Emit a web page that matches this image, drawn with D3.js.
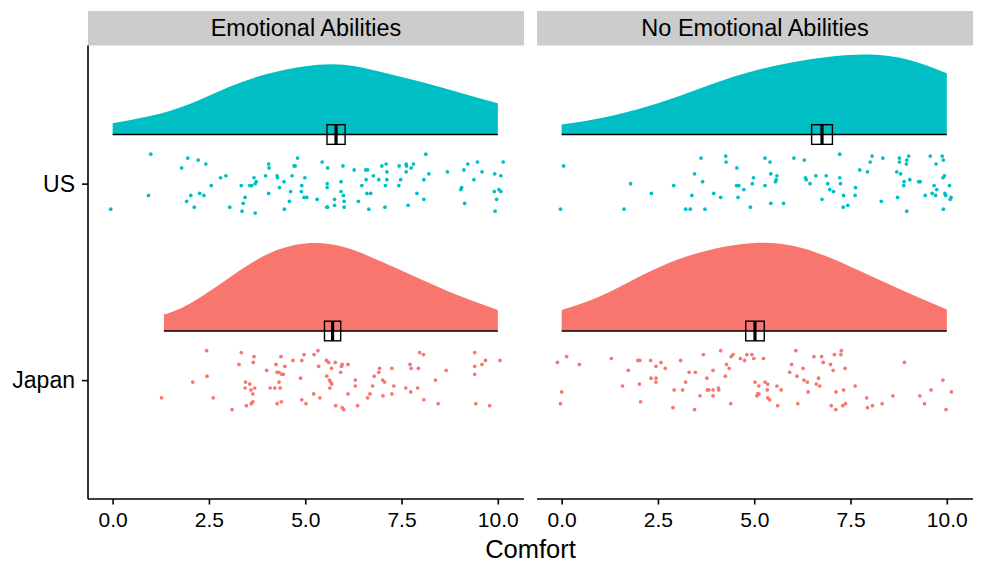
<!DOCTYPE html>
<html>
<head>
<meta charset="utf-8">
<script src="https://cdn.jsdelivr.net/npm/d3@7"></script>
<style>
  body { margin: 0; background: #fff; }
  svg text { font-family: "Liberation Sans", Arial, Helvetica, sans-serif; fill: #000; }
</style>
</head>
<body>
<svg width="984" height="564"></svg>
<script>
// facets, countries and ticks
const panels = ['Emotional Abilities', 'No Emotional Abilities'];
const countries = ['US', 'Japan'];
const countryColors = ['#00BFC4', '#F8766D'];
const xTicks = [0, 2.5, 5, 7.5, 10];

// half-violin densities (height in category units)
const gridFull = [0, 1, 2, 3, 4, 5, 6, 7, 8, 9, 10];
const gridJapanEmo = [1.33, 2, 3, 4, 5, 6, 7, 8, 9, 10];
const densUsEmo = [0.057, 0.095, 0.155, 0.240, 0.308, 0.348, 0.355, 0.317, 0.268, 0.214, 0.159];
const densUsNoEmo = [0.051, 0.083, 0.130, 0.192, 0.263, 0.324, 0.368, 0.397, 0.407, 0.381, 0.312];
const densJapanEmo = [0.084, 0.139, 0.267, 0.389, 0.445, 0.427, 0.351, 0.264, 0.179, 0.107];
const densJapanNoEmo = [0.107, 0.177, 0.275, 0.363, 0.420, 0.448, 0.434, 0.370, 0.282, 0.193, 0.110];

// mean +/- standard error (crossbars)
const meanComfort = [[5.80, 5.71], [6.76, 5.02]];
const seComfort = [[0.235, 0.21], [0.27, 0.24]];

// raw ratings: [comfort, vertical jitter]
const usEmo = [[-0.05,0.13],[0.99,-0.15],[0.93,0.06],[1.79,-0.08],[1.95,-0.13],[2.22,-0.12],[2.42,-0.10],[1.92,0.09],[2.03,0.06],[2.26,0.05],[2.37,0.06],[2.12,0.12],[2.56,0.01],[2.80,-0.03],[2.94,-0.04],[3.04,0.12],[3.34,0.01],[3.36,0.14],[3.39,0.10],[3.44,0.07],[3.56,0.01],[3.61,0.01],[3.67,-0.03],[3.70,0.00],[3.73,-0.01],[3.70,0.15],[3.97,-0.04],[4.05,-0.10],[4.06,-0.08],[4.05,0.05],[4.27,-0.04],[4.28,-0.03],[4.33,0.02],[4.45,-0.01],[4.46,0.13],[4.59,0.09],[4.62,0.04],[4.66,-0.04],[4.71,-0.09],[4.74,-0.09],[4.80,-0.13],[4.91,0.01],[4.90,0.04],[4.99,-0.03],[4.97,0.07],[5.04,0.07],[5.31,0.08],[5.44,-0.11],[5.58,-0.08],[5.57,0.00],[5.57,0.02],[5.56,0.12],[5.58,0.12],[5.76,0.08],[5.76,0.11],[5.93,-0.01],[5.93,0.04],[5.98,-0.09],[5.99,0.06],[6.01,0.09],[6.01,0.12],[6.27,-0.07],[6.38,0.09],[6.47,0.01],[6.57,-0.07],[6.62,-0.07],[6.58,-0.02],[6.60,0.05],[6.70,0.05],[6.65,0.13],[6.77,-0.04],[6.91,-0.02],[6.99,-0.09],[7.10,-0.10],[7.12,-0.06],[7.12,-0.02],[7.08,0.01],[7.07,0.12],[7.44,-0.09],[7.48,-0.02],[7.43,0.01],[7.62,-0.10],[7.63,-0.09],[7.62,-0.06],[7.75,-0.08],[7.81,-0.10],[7.67,0.11],[7.90,0.05],[8.08,0.08],[8.08,-0.02],[8.13,-0.15],[8.21,-0.05],[8.69,-0.06],[9.06,0.02],[9.04,0.03],[9.12,-0.07],[9.14,0.10],[9.22,-0.10],[9.38,-0.02],[9.47,-0.11],[9.59,-0.06],[9.92,-0.05],[10.08,-0.04],[9.91,0.04],[10.03,0.03],[10.08,0.04],[9.97,0.08],[9.93,0.14],[10.14,-0.11]];
const usNoEmo = [[-0.03,0.13],[0.05,-0.09],[1.62,0.13],[1.79,0.00],[2.33,0.05],[2.91,0.01],[3.22,0.13],[3.34,0.13],[3.38,0.06],[3.45,-0.05],[3.62,-0.13],[3.66,-0.01],[3.72,0.13],[3.95,0.05],[4.13,0.07],[4.26,-0.14],[4.27,-0.11],[4.55,-0.08],[4.54,0.01],[4.60,0.01],[4.58,0.07],[4.73,0.03],[4.90,0.12],[4.95,0.00],[4.98,-0.03],[5.28,-0.13],[5.28,0.01],[5.41,-0.11],[5.43,-0.05],[5.43,0.10],[5.55,-0.01],[5.59,-0.04],[5.57,-0.02],[5.76,0.10],[6.03,-0.13],[6.30,-0.12],[6.33,-0.03],[6.35,-0.02],[6.45,0.00],[6.60,-0.04],[6.76,0.08],[6.87,-0.04],[6.91,0.00],[6.96,0.03],[7.06,0.04],[7.22,-0.15],[7.22,-0.03],[7.24,0.00],[7.32,0.06],[7.31,0.12],[7.43,0.11],[7.62,0.06],[7.63,0.02],[7.74,-0.07],[7.94,-0.06],[8.01,-0.11],[8.06,-0.14],[8.30,0.09],[8.34,-0.13],[8.70,-0.06],[8.72,0.07],[8.77,-0.13],[8.77,-0.11],[8.80,-0.05],[8.88,0.01],[8.89,-0.01],[8.95,-0.10],[8.96,-0.12],[9.01,-0.14],[8.96,0.14],[9.04,-0.02],[9.27,-0.01],[9.31,-0.01],[9.44,0.06],[9.57,-0.14],[9.62,0.05],[9.67,0.01],[9.71,0.06],[9.72,-0.10],[9.74,0.03],[9.88,-0.14],[9.91,-0.12],[9.90,-0.03],[9.94,-0.04],[9.95,0.05],[9.97,0.06],[10.07,0.01],[10.09,0.08],[10.11,0.07],[9.91,0.13]];
const japanEmo = [[1.27,0.09],[2.08,0.01],[2.44,-0.15],[2.45,-0.02],[2.61,0.09],[3.10,0.15],[3.28,-0.08],[3.34,-0.14],[3.45,0.01],[3.44,0.04],[3.47,0.13],[3.56,0.02],[3.59,0.05],[3.60,0.12],[3.64,0.11],[3.64,0.07],[3.65,-0.09],[3.67,-0.12],[3.69,0.04],[4.00,-0.05],[4.09,0.04],[4.21,0.04],[4.24,-0.08],[4.27,-0.04],[4.27,0.12],[4.32,0.01],[4.35,0.04],[4.32,-0.04],[4.37,-0.12],[4.38,0.11],[4.39,-0.03],[4.43,-0.03],[4.47,-0.07],[4.68,-0.10],[4.88,-0.01],[4.91,-0.10],[4.91,0.10],[4.97,-0.13],[5.02,0.12],[5.22,0.07],[5.23,-0.13],[5.33,-0.15],[5.35,-0.07],[5.38,0.09],[5.55,-0.10],[5.56,-0.02],[5.61,-0.09],[5.63,0.00],[5.64,0.04],[5.66,0.01],[5.68,-0.06],[5.69,0.02],[5.78,-0.09],[5.79,0.13],[5.92,-0.04],[5.94,-0.07],[5.96,-0.08],[5.96,0.14],[6.00,0.15],[6.11,0.07],[6.11,-0.08],[6.30,0.00],[6.30,0.03],[6.36,0.13],[6.62,0.09],[6.68,0.07],[6.75,0.03],[6.79,-0.02],[6.91,-0.04],[6.93,-0.06],[7.01,0.00],[7.02,0.08],[7.06,0.01],[7.25,-0.06],[7.25,0.07],[7.30,0.03],[7.61,0.04],[7.72,-0.08],[7.74,0.06],[7.75,-0.06],[7.92,0.04],[7.94,-0.06],[7.97,-0.14],[8.07,-0.13],[8.08,0.10],[8.38,0.00],[8.45,0.12],[8.66,-0.05],[9.40,-0.14],[9.40,-0.07],[9.40,-0.03],[9.43,0.12],[9.59,-0.08],[9.68,-0.10],[9.79,0.13],[10.06,-0.10]];
const japanNoEmo = [[-0.11,-0.09],[0.13,-0.12],[0.00,0.06],[-0.03,0.12],[0.46,-0.08],[1.29,-0.11],[1.58,0.03],[1.73,-0.05],[1.98,-0.10],[2.03,-0.10],[2.02,0.02],[2.05,0.11],[2.31,-0.10],[2.32,-0.01],[2.45,-0.01],[2.45,0.01],[2.45,-0.07],[2.58,-0.09],[2.69,-0.06],[2.89,0.14],[2.92,0.05],[3.09,-0.10],[3.14,0.05],[3.22,0.01],[3.31,-0.04],[3.45,0.15],[3.47,-0.04],[3.59,0.08],[3.68,-0.13],[3.77,-0.01],[3.78,0.05],[3.82,0.05],[3.93,-0.05],[3.93,0.05],[3.93,0.08],[4.07,0.04],[4.08,0.05],[4.13,-0.15],[4.25,-0.02],[4.28,-0.08],[4.35,-0.06],[4.39,0.12],[4.40,-0.12],[4.45,-0.13],[4.64,-0.11],[4.75,-0.10],[4.81,-0.13],[4.94,-0.13],[4.99,-0.11],[5.02,0.01],[5.07,0.08],[5.09,0.07],[5.12,0.03],[5.12,0.07],[5.24,-0.11],[5.28,0.01],[5.34,0.05],[5.35,0.02],[5.35,0.09],[5.40,0.10],[5.59,0.03],[5.61,0.13],[5.70,0.05],[5.92,-0.04],[5.97,-0.08],[6.08,-0.15],[6.11,-0.02],[6.13,0.12],[6.27,-0.06],[6.29,0.00],[6.38,0.01],[6.40,0.06],[6.55,-0.12],[6.61,0.02],[6.67,-0.01],[6.70,0.03],[6.75,-0.12],[6.79,-0.09],[6.98,-0.08],[7.00,0.13],[7.05,-0.05],[7.08,-0.13],[7.12,0.06],[7.12,0.15],[7.25,-0.13],[7.26,-0.15],[7.30,0.13],[7.32,0.05],[7.36,-0.06],[7.37,0.12],[7.62,0.03],[7.92,0.09],[7.94,0.14],[8.07,0.13],[8.32,0.12],[8.60,0.08],[8.90,-0.09],[9.30,0.08],[9.42,0.12],[9.59,0.05],[9.90,0.00],[9.98,0.15],[10.12,0.06]];

const cells = [
  {panel: 0, country: 0, grid: gridFull, dens: densUsEmo, pts: usEmo},
  {panel: 0, country: 1, grid: gridJapanEmo, dens: densJapanEmo, pts: japanEmo},
  {panel: 1, country: 0, grid: gridFull, dens: densUsNoEmo, pts: usNoEmo},
  {panel: 1, country: 1, grid: gridFull, dens: densJapanNoEmo, pts: japanNoEmo}
];

const svg = d3.select('svg');
const panelLeft = [88, 537];
const panelWidth = 436;
const panelTop = 45.5;
const panelBottom = 499;

// category position 1 = US, 2 = Japan; larger = lower on screen
const y = d3.scaleLinear().domain([0.297, 2.605]).range([panelTop, panelBottom]);
const nudge = 0.25;
const boxHalf = 0.05;

panels.forEach((name, p) => {
  const x = d3.scaleLinear().domain([-0.64, 10.68])
    .range([panelLeft[p], panelLeft[p] + panelWidth]);
  const g = svg.append('g');

  // strip
  g.append('rect')
    .attr('x', panelLeft[p]).attr('y', 11)
    .attr('width', panelWidth).attr('height', panelTop - 11)
    .attr('fill', '#CCCCCC');
  g.append('text')
    .attr('x', panelLeft[p] + panelWidth / 2).attr('y', 36)
    .attr('text-anchor', 'middle')
    .style('font-size', '23.5px')
    .text(name);

  cells.filter((c) => c.panel === p).forEach((c) => {
    const pos = c.country + 1;
    const base = pos - nudge;
    const color = countryColors[c.country];
    const dens = c.grid.map((v, i) => [v, c.dens[i]]);

    g.append('path')
      .datum(dens)
      .attr('fill', color)
      .attr('d', d3.area()
        .x((d) => x(d[0]))
        .y0(y(base))
        .y1((d) => y(base - d[1]))
        .curve(d3.curveNatural));

    g.selectAll(null)
      .data(c.pts)
      .enter()
      .append('circle')
      .attr('cx', (d) => x(d[0]))
      .attr('cy', (d) => y(pos + d[1]))
      .attr('r', 1.85)
      .attr('fill', color);

    // range line along the violin base
    g.append('line')
      .attr('x1', x(d3.min(c.grid))).attr('x2', x(d3.max(c.grid)))
      .attr('y1', y(base)).attr('y2', y(base))
      .attr('stroke', '#000').attr('stroke-width', 1.6);

    const m = meanComfort[p][c.country];
    const se = seComfort[p][c.country];
    g.append('rect')
      .attr('x', x(m - se)).attr('y', y(base - boxHalf))
      .attr('width', x(m + se) - x(m - se))
      .attr('height', y(base + boxHalf) - y(base - boxHalf))
      .attr('fill', 'none').attr('stroke', '#000').attr('stroke-width', 1.4);
    g.append('line')
      .attr('x1', x(m)).attr('x2', x(m))
      .attr('y1', y(base - boxHalf)).attr('y2', y(base + boxHalf))
      .attr('stroke', '#000').attr('stroke-width', 3.2);
  });

  // x axis
  const xAxis = g.append('g')
    .attr('transform', `translate(0,${panelBottom})`)
    .call(d3.axisBottom(x).tickValues(xTicks).tickFormat(d3.format('.1f')).tickSize(5.5).tickPadding(8));
  xAxis.select('.domain').attr('stroke-width', 1.6).attr('d', `M${panelLeft[p]},0H${panelLeft[p] + panelWidth}`);
  xAxis.selectAll('.tick line').attr('stroke-width', 1.6);
  xAxis.selectAll('.tick text').style('font-size', '21px').attr('fill', '#000');

  if (p === 0) {
    const yAxis = g.append('g')
      .attr('transform', `translate(${panelLeft[0]},0)`)
      .call(d3.axisLeft(y).tickValues([1, 2]).tickFormat((d) => countries[d - 1]).tickSize(6).tickPadding(7));
    yAxis.select('.domain').attr('stroke-width', 1.6).attr('d', `M0,${panelTop}V${panelBottom}`);
    yAxis.selectAll('.tick line').attr('stroke-width', 1.6);
    yAxis.selectAll('.tick text').style('font-size', '23px').attr('fill', '#000');
  }
});

svg.append('text')
  .attr('x', (panelLeft[0] + panelLeft[1] + panelWidth) / 2)
  .attr('y', 558)
  .attr('text-anchor', 'middle')
  .style('font-size', '25.5px')
  .text('Comfort');
</script>
</body>
</html>
